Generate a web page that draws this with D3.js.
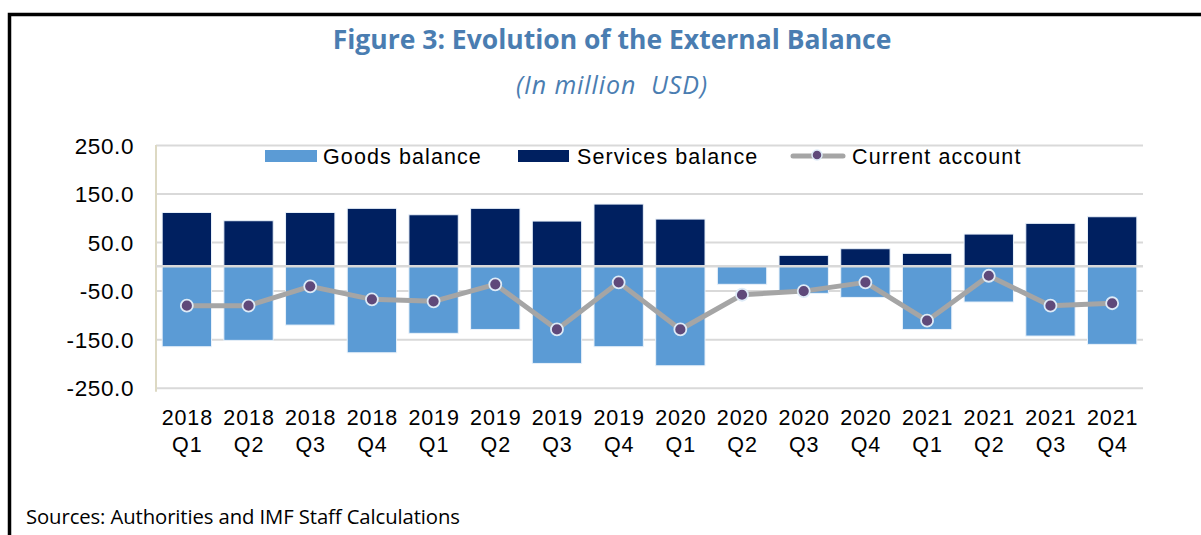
<!DOCTYPE html>
<html>
<head>
<meta charset="utf-8">
<script src="https://cdn.jsdelivr.net/npm/d3@7/dist/d3.min.js"></script>
<style>
  html, body { margin: 0; padding: 0; background: #fff; }
  svg { display: block; }
</style>
</head>
<body>
<svg id="chart" width="1201" height="535"></svg>
<script>
const years = ["2018","2018","2018","2018","2019","2019","2019","2019","2020","2020","2020","2020","2021","2021","2021","2021"];
const quarters = ["Q1","Q2","Q3","Q4","Q1","Q2","Q3","Q4","Q1","Q2","Q3","Q4","Q1","Q2","Q3","Q4"];
const goodsBalance = [-165.6, -152.5, -121.0, -178.0, -138.0, -130.0, -200.0, -165.6, -204.8, -37.0, -55.6, -64.0, -130.0, -73.5, -143.6, -160.7];
const servicesBalance = [111.0, 94.0, 111.0, 119.5, 106.3, 119.5, 93.3, 128.3, 97.4, 2.0, 22.7, 36.3, 26.8, 66.5, 88.6, 102.2];
const currentAccount = [-81.0, -81.0, -41.2, -68.0, -72.0, -37.0, -130.0, -33.0, -130.0, -58.5, -51.0, -33.0, -112.0, -19.4, -81.0, -76.0];
const yTicks = [-250, -150, -50, 50, 150, 250];
const seriesNames = ["Goods balance", "Services balance", "Current account"];

const categories = years.map((y, i) => y + " " + quarters[i]);

const svg = d3.select("#chart");
const C = { goods: "#5B9BD5", services: "#002060", line: "#A5A5A5", marker: "#5F497A", title: "#4A7DB1" };

// frame
svg.append("path").attr("d", "M9.5,535 L9.5,14.5 L1201,14.5").attr("fill", "none").attr("stroke", "#000").attr("stroke-width", 3.5);

// titles
svg.append("text").attr("x", 612).attr("y", 49).attr("text-anchor", "middle")
  .attr("font-family", "'Open Sans', sans-serif").attr("font-weight", 700).attr("font-size", 26.5)
  .attr("fill", C.title).text("Figure 3: Evolution of the External Balance");
svg.append("text").attr("x", 612).attr("y", 94).attr("text-anchor", "middle")
  .attr("font-family", "'Open Sans', sans-serif").attr("font-style", "italic").attr("font-size", 25)
  .attr("letter-spacing", "0.9px").style("white-space", "pre")
  .attr("fill", C.title).text("(In million  USD)");

const x = d3.scaleBand().domain(categories).range([156, 1143]).paddingInner(0.2).paddingOuter(0.1);
const y = d3.scaleLinear().domain([-250, 250]).range([387.7, 145]);

// gridlines via axis
const grid = svg.append("g").attr("transform", "translate(156,0)")
  .call(d3.axisLeft(y).tickValues(yTicks).tickSize(-987).tickFormat(""));
grid.select(".domain").remove();
grid.selectAll("line").attr("stroke", "#D9D9D9").attr("stroke-width", 2);

// y tick labels (hyphen minus like the original)
const fmt = d3.formatLocale({ decimal: ".", thousands: ",", grouping: [3], currency: ["$", ""], minus: "-" }).format(".1f");
const yAxis = svg.append("g").attr("transform", "translate(134,0)")
  .call(d3.axisLeft(y).tickValues(yTicks).tickSize(0).tickPadding(0).tickFormat(fmt));
yAxis.select(".domain").remove();
yAxis.selectAll("text").attr("font-family", "'Liberation Sans', Arial, sans-serif").attr("font-size", 22.5)
  .attr("fill", "#000").attr("letter-spacing", "0.6px").attr("dy", "0.36em");

// left axis line
svg.append("line").attr("x1", 156).attr("x2", 156).attr("y1", y(250)).attr("y2", y(-250) + 4)
  .attr("stroke", "#DDD9C3").attr("stroke-width", 2);

// bars
svg.append("g").selectAll("rect").data(goodsBalance).join("rect")
  .attr("x", (d, i) => x(categories[i])).attr("width", x.bandwidth())
  .attr("y", y(0)).attr("height", d => y(d) - y(0))
  .attr("fill", C.goods).attr("stroke", "#EAF2FA").attr("stroke-width", 1);
svg.append("g").selectAll("rect").data(servicesBalance).join("rect")
  .attr("x", (d, i) => x(categories[i])).attr("width", x.bandwidth())
  .attr("y", d => y(d)).attr("height", d => y(0) - y(d))
  .attr("fill", C.services).attr("stroke", "#EAF2FA").attr("stroke-width", 1);

// zero line
svg.append("line").attr("x1", 156).attr("x2", 1143).attr("y1", y(0)).attr("y2", y(0))
  .attr("stroke", "#D9D9D9").attr("stroke-width", 2.5);

// current account line
const cx = (d, i) => x(categories[i]) + x.bandwidth() / 2;
svg.append("path").datum(currentAccount)
  .attr("d", d3.line().x(cx).y(d => y(d)))
  .attr("fill", "none").attr("stroke", C.line).attr("stroke-width", 5).attr("stroke-linejoin", "round");
svg.append("g").selectAll("circle").data(currentAccount).join("circle")
  .attr("cx", cx).attr("cy", d => y(d)).attr("r", 6)
  .attr("fill", C.marker).attr("stroke", "#DEEBF7").attr("stroke-width", 1.8);

// x labels
const xl = svg.append("g").attr("font-family", "'Liberation Sans', Arial, sans-serif").attr("font-size", 21.5)
  .attr("fill", "#000").attr("text-anchor", "middle").attr("letter-spacing", "0.9px");
categories.forEach((c, i) => {
  const t = xl.append("text").attr("x", x(c) + x.bandwidth() / 2 + 0.5).attr("y", 425);
  t.append("tspan").attr("x", x(c) + x.bandwidth() / 2 + 0.5).attr("y", 425).text(years[i]);
  t.append("tspan").attr("x", x(c) + x.bandwidth() / 2 + 0.5).attr("y", 452).text(quarters[i]);
});

// legend
const lg = svg.append("g").attr("font-family", "'Liberation Sans', Arial, sans-serif").attr("font-size", 21.5)
  .attr("fill", "#000").attr("letter-spacing", "1.1px");
lg.append("rect").attr("x", 265).attr("y", 150).attr("width", 52).attr("height", 12).attr("fill", C.goods);
lg.append("text").attr("x", 323).attr("y", 164).text(seriesNames[0]);
lg.append("rect").attr("x", 518).attr("y", 150).attr("width", 51).attr("height", 12).attr("fill", C.services);
lg.append("text").attr("x", 577).attr("y", 164).text(seriesNames[1]);
lg.append("line").attr("x1", 793).attr("x2", 843).attr("y1", 156).attr("y2", 156)
  .attr("stroke", C.line).attr("stroke-width", 5).attr("stroke-linecap", "round");
lg.append("circle").attr("cx", 817).attr("cy", 155).attr("r", 5)
  .attr("fill", C.marker).attr("stroke", "#DEEBF7").attr("stroke-width", 1.5);
lg.append("text").attr("x", 852).attr("y", 164).text(seriesNames[2]);

// source
svg.append("text").attr("x", 26).attr("y", 524)
  .attr("font-family", "'Open Sans', sans-serif").attr("font-size", 20.3).attr("fill", "#000")
  .attr("letter-spacing", "-0.1px")
  .text("Sources: Authorities and IMF Staff Calculations");
</script>
</body>
</html>
